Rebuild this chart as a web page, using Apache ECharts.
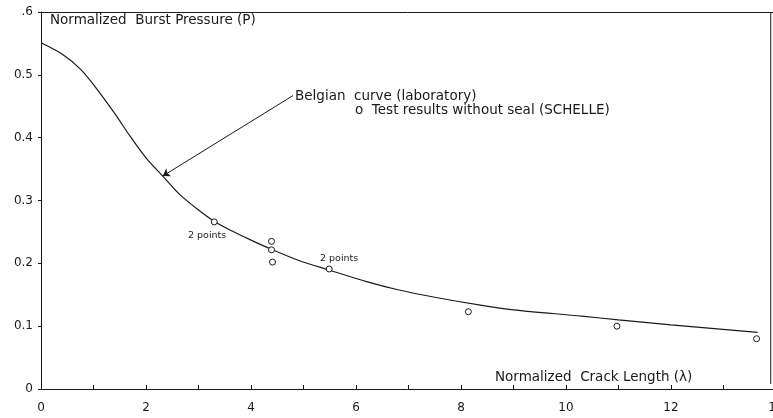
<!DOCTYPE html>
<html>
<head>
<meta charset="utf-8">
<script src="https://cdn.jsdelivr.net/npm/echarts@6/dist/echarts.min.js"></script>
<style>html,body{margin:0;padding:0;background:#fff}#c{width:773px;height:418px}</style>
</head>
<body>
<div id="c"></div>
<script>
// Belgian curve (laboratory)
var curveLambda = [0, 0.4, 0.75, 1.05, 1.4, 1.7, 2.0, 2.35, 2.65, 3.0, 3.3, 3.6, 4.0, 4.4, 4.9, 5.5, 6.2, 6.8, 7.5, 8.4, 9.0, 10.3, 11.0, 12.0, 13.65];
var curveP      = [0.551, 0.533, 0.509, 0.479, 0.439, 0.402, 0.368, 0.336, 0.309, 0.285, 0.267, 0.253, 0.237, 0.222, 0.205, 0.189, 0.171, 0.158, 0.146, 0.133, 0.126, 0.116, 0.110, 0.102, 0.090];
// Test results without seal (SCHELLE)
var testLambda = [3.3, 4.39, 4.39, 4.41, 5.49, 8.14, 10.97, 13.63];
var testP      = [0.266, 0.235, 0.2215, 0.202, 0.191, 0.123, 0.100, 0.080];
// annotation arrow (data coords)
var arrowLambda = [4.8, 2.32];
var arrowP      = [0.467, 0.339];
var yTickLabels = {0: '0', 0.1: '0.1', 0.2: '0.2', 0.3: '0.3', 0.4: '0.4', 0.5: '0.5', 0.6: '.6'};

var ink = '#1a1a1a';
var font = 'DejaVu Sans';
var chart = echarts.init(document.getElementById('c'), null, {renderer: 'canvas'});

var curveData = curveLambda.map(function (x, i) { return [x, curveP[i]]; });
var testData = testLambda.map(function (x, i) { return [x, testP[i]]; });

chart.setOption({
  animation: false,
  backgroundColor: '#fff',
  grid: {left: 41, right: -3, top: 12, bottom: 29, containLabel: false, outerBoundsMode: 'none'},
  xAxis: [{
    type: 'value', min: 0, max: 14, interval: 2,
    axisLine: {lineStyle: {color: ink, width: 1}},
    axisTick: {show: true, inside: true, length: 4, lineStyle: {color: ink}},
    minorTick: {show: true, splitNumber: 2, length: 4, lineStyle: {color: ink}},
    splitLine: {show: false},
    axisLabel: {color: ink, fontFamily: font, fontSize: 12, margin: 13}
  }, {
    type: 'value', min: 0, max: 14, position: 'top',
    axisLine: {show: true, lineStyle: {color: ink, width: 1}},
    axisTick: {show: false}, axisLabel: {show: false}, splitLine: {show: false}
  }],
  yAxis: {
    type: 'value', min: 0, max: 0.6, interval: 0.1,
    axisLine: {show: true, lineStyle: {color: ink, width: 1}},
    axisTick: {show: true, length: 3, lineStyle: {color: ink}},
    splitLine: {show: false},
    axisLabel: {color: ink, fontFamily: font, fontSize: 12, margin: 8,
      formatter: function (v) { var k = Math.round(v * 10) / 10; return yTickLabels[k] !== undefined ? yTickLabels[k] : ''; }}
  },
  series: [{
    type: 'line', data: curveData, smooth: 0.3, showSymbol: false,
    lineStyle: {color: ink, width: 1.2}, z: 2
  }, {
    type: 'scatter', data: testData, symbol: 'circle', symbolSize: 6,
    itemStyle: {color: '#fff', borderColor: ink, borderWidth: 1, opacity: 1}, z: 3
  }, {
    type: 'lines', coordinateSystem: 'cartesian2d', polyline: false,
    symbol: ['none', 'arrow'], symbolSize: 7,
    lineStyle: {color: ink, width: 1, opacity: 1},
    data: [{coords: [[arrowLambda[0], arrowP[0]], [arrowLambda[1], arrowP[1]]]}]
  }]
});

var xr = chart.convertToPixel({xAxisIndex: 0}, 13.9);
var yt = chart.convertToPixel({yAxisIndex: 0}, 0.6);
var yb = chart.convertToPixel({yAxisIndex: 0}, 0.008);
var f = '13.5px "DejaVu Sans"';
chart.setOption({graphic: [
  {type: 'text', left: 50, top: 13, style: {text: 'Normalized  Burst Pressure (P)', font: f, fill: ink}},
  {type: 'text', left: 495, top: 370, style: {text: 'Normalized  Crack Length (λ)', font: f, fill: ink}},
  {type: 'text', left: 295, top: 89, style: {text: 'Belgian  curve (laboratory)', font: f, fill: ink}},
  {type: 'text', left: 355, top: 103, style: {text: 'o  Test results without seal (SCHELLE)', font: f, fill: ink}},
  {type: 'text', left: 188, top: 231, style: {text: '2 points', font: '9.5px "DejaVu Sans"', fill: ink}},
  {type: 'text', left: 320, top: 254, style: {text: '2 points', font: '9.5px "DejaVu Sans"', fill: ink}},
  {type: 'line', shape: {x1: xr, y1: yt, x2: xr, y2: yb}, style: {stroke: ink, lineWidth: 1}}
]});
</script>
</body>
</html>
